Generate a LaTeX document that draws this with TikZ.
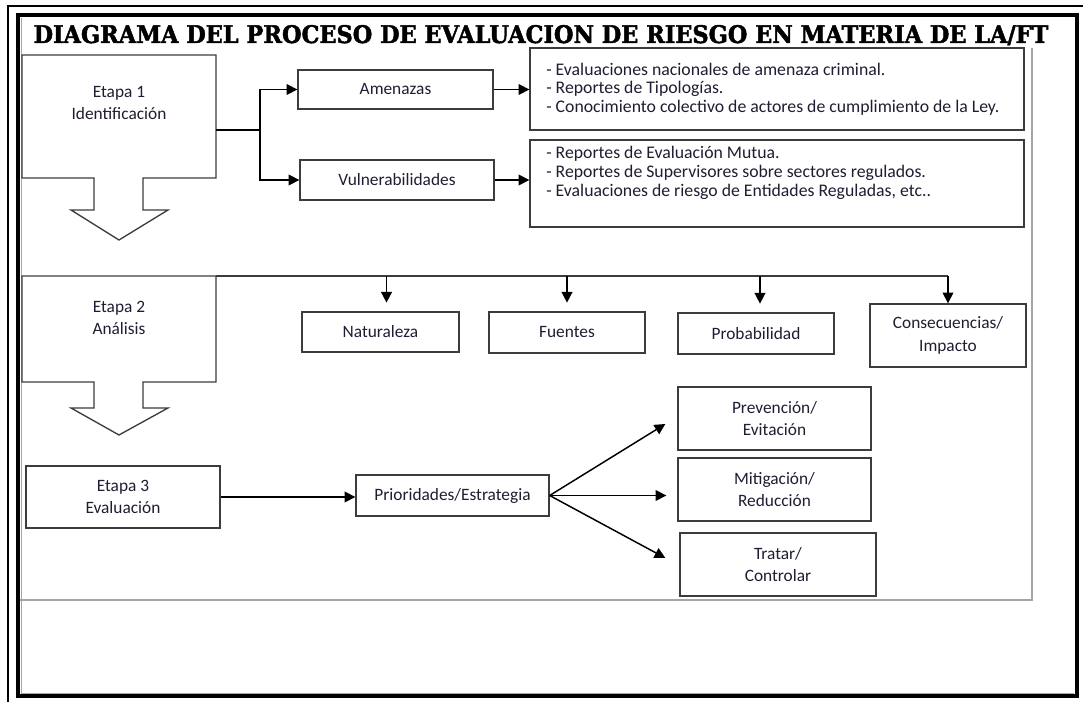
\documentclass[tikz,border=0pt]{standalone}
\usepackage{graphicx}
\usepackage{fontspec}
\setmainfont{Carlito}
\newfontfamily\titlefont{DejaVu Serif}[BoldFeatures={FakeBold=2}]
\usetikzlibrary{arrows.meta,calc}
\definecolor{textc}{RGB}{30,30,50}
\definecolor{edge}{RGB}{60,60,60}
\definecolor{canvas}{RGB}{165,165,165}
\newcommand{\bx}[7][]{\node[box,#1, minimum width={(#5-#3)*0.75pt}, minimum height={(#6-#4)*0.75pt}]
  (#2) at ({(#3+#5)/2},{(#4+#6)/2}) {#7};}
\begin{document}
\begin{tikzpicture}[x=0.75pt,y=-0.75pt,
  box/.style={draw=edge, line width=1pt, inner sep=0pt, fill=white, text=textc,
    font=\fontsize{13}{17}\selectfont, align=center},
  txt/.style={inner sep=0pt, text=textc, font=\fontsize{13.3}{14}\selectfont, align=left},
  stagetxt/.style={inner sep=0pt, text=textc, font=\fontsize{13}{16}\selectfont, align=center},
  stage/.style={draw=edge, line width=1pt, fill=white},
  conn/.style={draw=black, line width=1.1pt},
  arr/.style={conn, -{Triangle[length=8pt,width=8pt]}}]
\useasboundingbox (0,0) rectangle (1083,702);
\fill[white] (0,0) rectangle (1083,702);

% frames
\draw[line width=1.4pt] (8,702) -- (8,6) -- (1083,6);
\draw[line width=2.7pt] (18,15) rectangle (1077,696);
\draw[gray!70, line width=0.7pt] (21,18) -- (21,693) -- (1074,693);
\draw[canvas, line width=1.3pt] (1032,48) -- (1032,600) -- (20,600);

% title
\node[inner sep=0pt, anchor=base, font=\titlefont\bfseries] (title) at (541,43)
  {\resizebox{761pt}{13.5pt}{DIAGRAMA DEL PROCESO DE EVALUACION DE RIESGO EN MATERIA DE LA/FT}};

% stage 1
\draw[stage] (22,55) -- (216,55) -- (216,178) -- (143,178) -- (143,210) -- (168,210)
  -- (119,240) -- (71,210) -- (94,210) -- (94,178) -- (22,178) -- cycle;
\node[stagetxt] (e1) at (119,103) {Etapa 1\\Identificación};
\coordinate (e1r) at (216,130);
\coordinate (e1j) at (260,130);

% stage 2
\draw[stage] (22,276) -- (216,276) -- (216,382) -- (143,382) -- (143,408) -- (168,408)
  -- (119,435) -- (71,408) -- (94,408) -- (94,382) -- (22,382) -- cycle;
\node[stagetxt] (e2) at (119,318) {Etapa 2\\Análisis};
\coordinate (e2tr) at (216,276);

% stage 3
\bx{e3}{26}{466}{220}{528}{Etapa 3\\Evaluación}

% identification
\bx{amen}{298}{70}{493}{109}{Amenazas}
\bx{vuln}{300}{160}{494}{200}{Vulnerabilidades}
\bx{b1}{530}{48}{1024}{130}{}
\node[txt, anchor=west] (b1t) at (546,89) {- Evaluaciones nacionales de amenaza criminal.\\- Reportes de Tipologías.\\- Conocimiento colectivo de actores de cumplimiento de la Ley.};
\bx{b2}{530}{140}{1024}{227}{}
\node[txt, anchor=west] (b2t) at (546,173) {- Reportes de Evaluación Mutua.\\- Reportes de Supervisores sobre sectores regulados.\\- Evaluaciones de riesgo de Entidades Reguladas, etc..};

\draw[conn] (e1r) -- (e1j);
\draw[arr] (e1j) |- (amen.west);
\draw[arr] (e1j) |- (vuln.west);
\draw[arr] (amen.east) -- (amen.east -| b1.west);
\draw[arr] (vuln.east) -- (vuln.east -| b2.west);

% analysis
\bx{nat}{302}{312}{459}{352}{Naturaleza}
\bx{fue}{489}{312}{645}{353}{Fuentes}
\bx{prob}{678}{313}{834}{354}{Probabilidad}
\bx{cons}{870}{304}{1026}{367}{Consecuencias/\\Impacto}

\draw[edge, line width=1.1pt] (e2tr) -- (cons.north |- e2tr);
\draw[arr] (cons.north |- e2tr) -- (cons.north);
\draw[arr, shorten >=6.5pt] ($(nat.north |- e2tr)+(6,0)$) -- ($(nat.north)+(6,0)$);
\draw[arr, shorten >=6.5pt] (fue.north |- e2tr) -- (fue.north);
\draw[arr, shorten >=6.5pt] ($(prob.north |- e2tr)+(4,0)$) -- ($(prob.north)+(4,0)$);

% evaluation
\bx{prio}{356}{475}{549}{516}{Prioridades/Estrategia}
\bx{prev}{678}{387}{871}{450}{Prevención/\\Evitación}
\bx{mit}{678}{458}{871}{521}{Mitigación/\\Reducción}
\bx{trat}{680}{533}{876}{596}{Tratar/\\Controlar}

\draw[arr] (e3.east) -- (e3.east -| prio.west);
\draw[arr] (prio.east) -- ($(prev.west)+(-12,5.5)$);
\draw[arr] (prio.east) -- ($(mit.west)+(-11,6)$);
\draw[arr] (prio.east) -- ($(trat.west)+(-14,-6.5)$);
\end{tikzpicture}
\end{document}
